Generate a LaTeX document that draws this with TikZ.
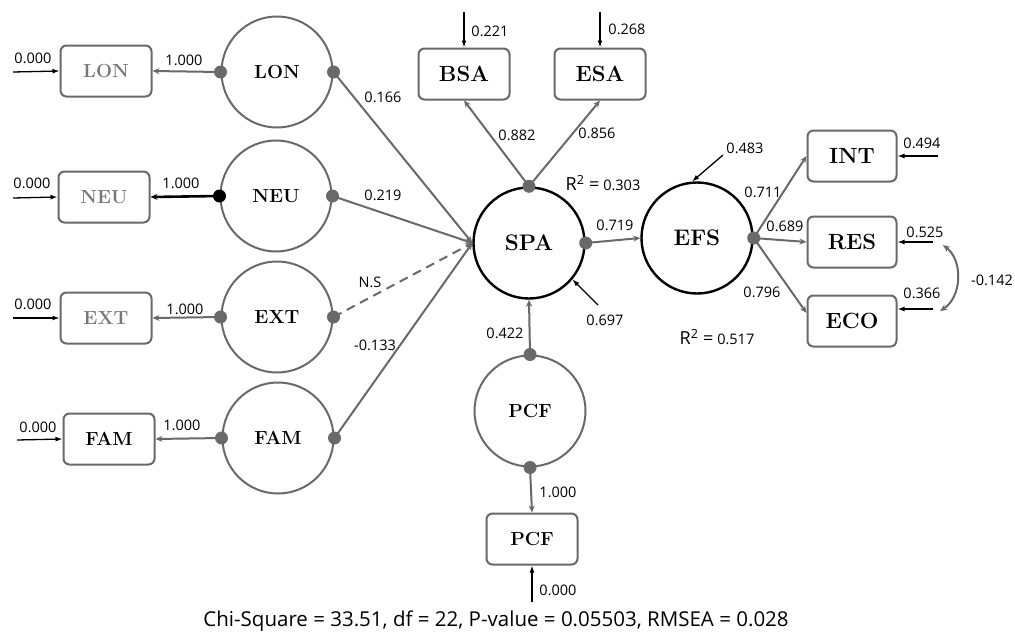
\documentclass[tikz,border=0pt]{standalone}
\usepackage{fontspec}
\setsansfont{Open Sans}
\usetikzlibrary{arrows.meta}
\definecolor{semgray}{RGB}{105,105,105}
\definecolor{boxtext}{RGB}{120,120,120}
\begin{document}
\begin{tikzpicture}[x=1pt,y=-1pt,
    latent/.style={circle,draw=semgray,line width=2pt,minimum size=111pt,inner sep=0pt,
      font=\bfseries\fontsize{19}{20}\selectfont},
    core/.style={latent,draw=black,line width=2.4pt,font=\bfseries\fontsize{22.5}{24}\selectfont},
    manifest/.style={draw=semgray,line width=2pt,rounded corners=6pt,minimum width=91pt,
      minimum height=51pt,inner sep=0pt,font=\bfseries\fontsize{19}{20}\selectfont},
    bigbox/.style={manifest,font=\bfseries\fontsize{22}{24}\selectfont},
    lbl/.style={font=\sffamily\fontsize{14.5}{15}\selectfont,inner sep=1pt},
    load/.style={semgray,line width=2pt,-{Stealth[length=7pt,width=6pt]}},
    err/.style={black,line width=1.3pt,-{Latex[length=7pt,width=5pt]}},
    cov/.style={semgray,line width=2pt,{Stealth[length=7pt,width=6pt]}-{Stealth[length=7pt,width=6pt]}}]
  \useasboundingbox (0,0) rectangle (1015,637);
  % latent variables
  \node[latent] (lon) at (277,72) {LON};
  \node[latent] (neu) at (276,196) {NEU};
  \node[latent] (ext) at (277,317) {EXT};
  \node[latent] (fam) at (278,438) {FAM};
  \node[core] (spa) at (529,243) {SPA};
  \node[latent] (pcf) at (530,411) {PCF};
  \node[core] (efs) at (697,238) {EFS};
  % indicators
  \node[manifest,text=boxtext] (lonbox) at (106,71) {LON};
  \node[manifest,text=boxtext] (neubox) at (104,197) {NEU};
  \node[manifest,text=boxtext] (extbox) at (106,318) {EXT};
  \node[manifest] (fambox) at (109,439) {FAM};
  \node[manifest] (pcfbox) at (532,539) {PCF};
  \node[bigbox] (bsa) at (464,74) {BSA};
  \node[bigbox] (esa) at (600,74) {ESA};
  \node[bigbox,minimum width=89pt] (int) at (852,156) {INT};
  \node[bigbox,minimum width=89pt] (res) at (852,242) {RES};
  \node[bigbox,minimum width=89pt] (eco) at (852,321) {ECO};
  % free ends of the error arrows
  \coordinate (lonin) at (13,72);
  \coordinate (neuin) at (13,198);
  \coordinate (extin) at (13,318);
  \coordinate (famin) at (17,440);
  \coordinate (bsain) at (464,12);
  \coordinate (esain) at (600,12);
  \coordinate (pcfin) at (532,602);
  \coordinate (spain) at (598,305);
  \coordinate (efsin) at (723,155);
  \coordinate (intin) at (938,156);
  \coordinate (resin) at (933,242);
  \coordinate (ecoin) at (933,309);
  \coordinate (covtop) at (943,245);
  \coordinate (covbot) at (940,311);
  % loadings
  \draw[load] (lon.west) to (lonbox.east);
  \draw[load,black,line width=2.6pt] (neu.west) to (neubox.east);
  \draw[load] (ext.west) to (extbox.east);
  \draw[load] (fam.west) to (fambox.east);
  \draw[load] (pcf.south) to (pcfbox.north);
  \draw[load] (spa.north) to (bsa.south);
  \draw[load] (spa.north) to (esa.south);
  \draw[load] (efs.east) to (int.west);
  \draw[load] (efs.east) to (res.west);
  \draw[load] (efs.east) to (eco.170);
  % structural paths
  \draw[load] (lon.east) to (spa.west);
  \draw[load] (neu.east) to (spa.west);
  \draw[load,dashed,dash pattern=on 9pt off 6pt] (ext.east) to (spa.west);
  \draw[load] (fam.east) to (spa.west);
  \draw[load] (pcf.north) to (spa.south);
  \draw[load] (spa.east) to (efs.west);
  \draw[cov] (covtop) to[bend left=55] (covbot);
  % errors
  \draw[err] (lonin) to (lonbox.west);
  \draw[err] (neuin) to (neubox.west);
  \draw[err] (extin) to (extbox.west);
  \draw[err] (famin) to (fambox.west);
  \draw[err] (bsain) to (bsa.north);
  \draw[err] (esain) to (esa.north);
  \draw[err] (pcfin) to (pcfbox.south);
  \draw[err] (spain) to (spa.-40);
  \draw[err] (efsin) to (efs.95);
  \draw[err] (intin) to (int.east);
  \draw[err] (resin) to (res.east);
  \draw[err] (ecoin) to ([yshift=12pt]eco.east);
  % dots
  \fill[semgray] (lon.west) circle (6.5pt) (lon.east) circle (6.5pt)
    (neu.east) circle (6.5pt) (ext.west) circle (6.5pt) (ext.east) circle (6.5pt)
    (fam.west) circle (6.5pt) (fam.east) circle (6.5pt)
    (pcf.north) circle (6.5pt) (pcf.south) circle (6.5pt)
    (spa.north) circle (6.5pt) (spa.east) circle (6.5pt) (efs.east) circle (6.5pt);
  \fill[black] (neu.west) circle (6.5pt);
  % values
  \node[lbl] (w1) at (184,60) {1.000};
  \node[lbl] (w2) at (181,183) {1.000};
  \node[lbl] (w3) at (185,309) {1.000};
  \node[lbl] (w4) at (182,425) {1.000};
  \node[lbl] (e1) at (33,58) {0.000};
  \node[lbl] (e2) at (32,183) {0.000};
  \node[lbl] (e3) at (33,304) {0.000};
  \node[lbl] (e4) at (38,427) {0.000};
  \node[lbl] (g1) at (383,97) {0.166};
  \node[lbl] (g2) at (383,195) {0.219};
  \node[lbl] (g3) at (370,282) {N.S};
  \node[lbl] (g4) at (375,345) {-0.133};
  \node[lbl] (w5) at (517,135) {0.882};
  \node[lbl] (w6) at (597,133) {0.856};
  \node[lbl] (e5) at (490,31) {0.221};
  \node[lbl] (e6) at (627,29) {0.268};
  \node[lbl] (r1) at (603,183) {{\fontsize{18}{18}\selectfont R\textsuperscript{2} =} 0.303};
  \node[lbl] (e7) at (605,320) {0.697};
  \node[lbl] (g5) at (505,333) {0.422};
  \node[lbl] (w7) at (558,492) {1.000};
  \node[lbl] (e8) at (558,590) {0.000};
  \node[lbl] (g6) at (615,225) {0.719};
  \node[lbl] (e9) at (745,148) {0.483};
  \node[lbl] (w8) at (763,192) {0.711};
  \node[lbl] (w9) at (785,226) {0.689};
  \node[lbl] (w10) at (762,292) {0.796};
  \node[lbl] (r2) at (717,337) {{\fontsize{18}{18}\selectfont R\textsuperscript{2} =} 0.517};
  \node[lbl] (e10) at (922,143) {0.494};
  \node[lbl] (e11) at (925,232) {0.525};
  \node[lbl] (e12) at (922,293) {0.366};
  \node[lbl] (c1) at (992,280) {-0.142};
  \node[lbl,font=\sffamily\fontsize{20.5}{22}\selectfont] (fit) at (496,621)
    {Chi-Square = 33.51, df = 22, P-value = 0.05503, RMSEA = 0.028};
\end{tikzpicture}
\end{document}
